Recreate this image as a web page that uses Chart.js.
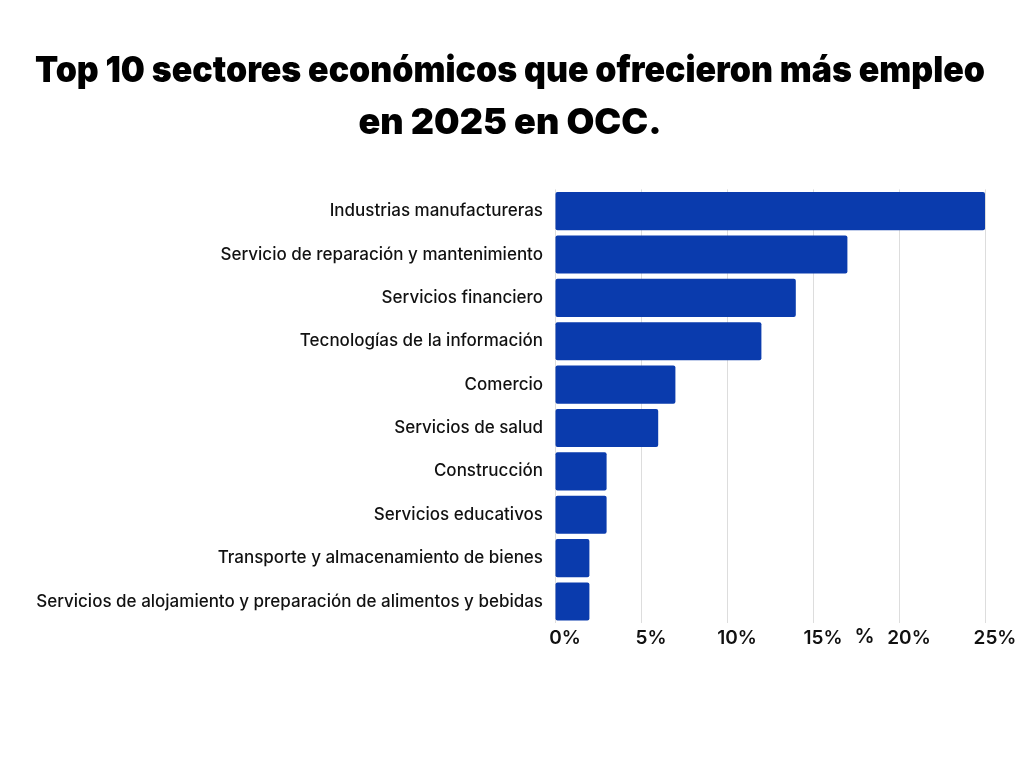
<!DOCTYPE html>
<html>
<head>
<meta charset="utf-8">
<script src="https://cdn.jsdelivr.net/npm/chart.js@4"></script>
<style>
html,body{margin:0;padding:0;background:#fff;}
#wrap{width:1024px;height:768px;position:relative;}
</style>
</head>
<body>
<div id="wrap"><canvas id="c"></canvas></div>
<script>
const categories = [
  "Industrias manufactureras",
  "Servicio de reparación y mantenimiento",
  "Servicios financiero",
  "Tecnologías de la información",
  "Comercio",
  "Servicios de salud",
  "Construcción",
  "Servicios educativos",
  "Transporte y almacenamiento de bienes",
  "Servicios de alojamiento y preparación de alimentos y bebidas"
];
const values = [25, 17, 14, 12, 7, 6, 3, 3, 2, 2];
const tickValues = [0, 5, 10, 15, 20, 25];
const titleLines = ["Top 10 sectores económicos que ofrecieron más empleo", "en 2025 en OCC."];
const axisUnit = "%";
const axisUnitAt = 18;

const unitPlugin = {
  id: 'unitLabel',
  afterDraw(chart) {
    const x = chart.scales.x;
    const ctx = chart.ctx;
    ctx.save();
    ctx.font = '600 20px Inter';
    ctx.fillStyle = '#111';
    ctx.textAlign = 'center';
    ctx.textBaseline = 'top';
    ctx.fillText(axisUnit, x.getPixelForValue(axisUnitAt), chart.chartArea.bottom + 4);
    ctx.restore();
  }
};

new Chart(document.getElementById('c'), {
  type: 'bar',
  data: {
    labels: categories,
    datasets: [{
      data: values,
      backgroundColor: '#0a3bad',
      borderRadius: 2,
      borderSkipped: false,
      barPercentage: 0.88,
      categoryPercentage: 1.0
    }]
  },
  options: {
    indexAxis: 'y',
    responsive: true,
    maintainAspectRatio: false,
    animation: false,
    layout: { padding: { left: 35, right: 39, top: 20, bottom: 114 } },
    plugins: {
      legend: { display: false },
      tooltip: { enabled: false },
      title: {
        display: true,
        text: titleLines,
        color: '#000',
        font: { family: 'Inter', size: 36, weight: '900', lineHeight: 1.45 },
        padding: { top: 25, bottom: 40 }
      }
    },
    scales: {
      x: {
        min: 0, max: 25,
        afterBuildTicks(scale) { scale.ticks = tickValues.map(v => ({ value: v })); },
        ticks: {
          color: '#111',
          font: { family: 'Inter', size: 19, weight: '600' },
          padding: 4,
          labelOffset: 10,
          callback: v => v + '%'
        },
        grid: { color: '#dddddd', lineWidth: 1, drawTicks: false },
        border: { display: false }
      },
      y: {
        afterFit(scale) { scale.width = 520; },
        ticks: {
          color: '#111',
          font: { family: 'Inter', size: 17, weight: '500' },
          padding: 12
        },
        grid: { display: false, drawTicks: false },
        border: { display: false }
      }
    }
  },
  plugins: [unitPlugin]
});
</script>
</body>
</html>
